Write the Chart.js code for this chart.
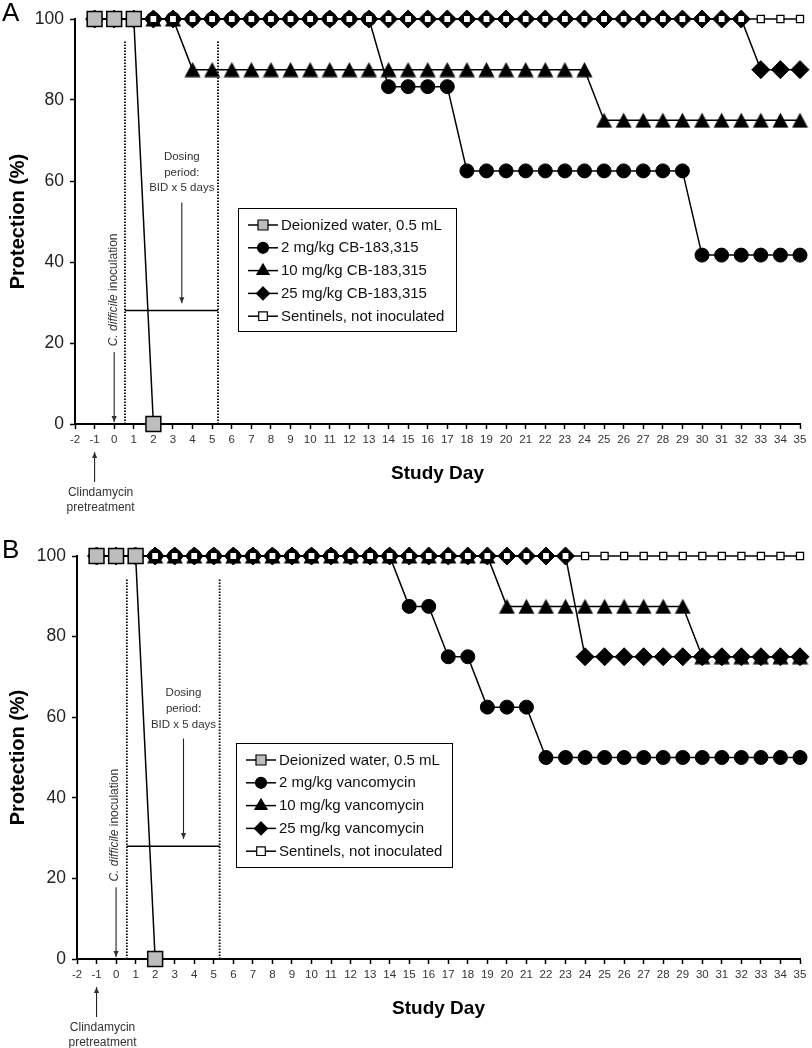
<!DOCTYPE html>
<html>
<head>
<meta charset="utf-8">
<script src="https://cdn.jsdelivr.net/npm/chart.js@4.4.0/dist/chart.umd.min.js"></script>
<style>
  html, body { margin: 0; padding: 0; background: #fff; }
  canvas { display: block; }
</style>
</head>
<body>
<canvas id="chartA" width="812" height="524"></canvas>
<canvas id="chartB" width="812" height="524"></canvas>
<script>
// study days shown for every treated group (-1 .. 35)
var days = [-1, 0, 1, 2, 3, 4, 5, 6, 7, 8, 9, 10, 11, 12, 13, 14, 15, 16, 17, 18,
            19, 20, 21, 22, 23, 24, 25, 26, 27, 28, 29, 30, 31, 32, 33, 34, 35];
var waterDays = [-1, 0, 1, 2];
var waterVals = [100, 100, 100, 0];

// panel A - CB-183,315
var cb2 = [100, 100, 100, 100, 100, 100, 100, 100, 100, 100, 100, 100, 100, 100, 100,
           83.3, 83.3, 83.3, 83.3,
           62.5, 62.5, 62.5, 62.5, 62.5, 62.5, 62.5, 62.5, 62.5, 62.5, 62.5, 62.5,
           41.7, 41.7, 41.7, 41.7, 41.7, 41.7];
var cb10 = [100, 100, 100, 100, 100,
            87.5, 87.5, 87.5, 87.5, 87.5, 87.5, 87.5, 87.5, 87.5, 87.5, 87.5, 87.5, 87.5, 87.5,
            87.5, 87.5, 87.5, 87.5, 87.5, 87.5, 87.5,
            75, 75, 75, 75, 75, 75, 75, 75, 75, 75, 75];
var cb25 = [100, 100, 100, 100, 100, 100, 100, 100, 100, 100, 100, 100, 100, 100, 100, 100, 100,
            100, 100, 100, 100, 100, 100, 100, 100, 100, 100, 100, 100, 100, 100, 100, 100, 100,
            87.5, 87.5, 87.5];
var sentA = [100, 100, 100, 100, 100, 100, 100, 100, 100, 100, 100, 100, 100, 100, 100, 100, 100,
             100, 100, 100, 100, 100, 100, 100, 100, 100, 100, 100, 100, 100, 100, 100, 100, 100,
             100, 100, 100];

// panel B - vancomycin
var van2 = [100, 100, 100, 100, 100, 100, 100, 100, 100, 100, 100, 100, 100, 100, 100, 100,
            87.5, 87.5, 75, 75, 62.5, 62.5, 62.5,
            50, 50, 50, 50, 50, 50, 50, 50, 50, 50, 50, 50, 50, 50];
var van10 = [100, 100, 100, 100, 100, 100, 100, 100, 100, 100, 100, 100, 100, 100, 100, 100, 100,
             100, 100, 100, 100,
             87.5, 87.5, 87.5, 87.5, 87.5, 87.5, 87.5, 87.5, 87.5, 87.5,
             75, 75, 75, 75, 75, 75];
var van25 = [100, 100, 100, 100, 100, 100, 100, 100, 100, 100, 100, 100, 100, 100, 100, 100, 100,
             100, 100, 100, 100, 100, 100, 100, 100,
             75, 75, 75, 75, 75, 75, 75, 75, 75, 75, 75, 75];
var sentB = [100, 100, 100, 100, 100, 100, 100, 100, 100, 100, 100, 100, 100, 100, 100, 100, 100,
             100, 100, 100, 100, 100, 100, 100, 100, 100, 100, 100, 100, 100, 100, 100, 100, 100,
             100, 100, 100];

var labelsA = ["Deionized water, 0.5 mL", "2 mg/kg CB-183,315", "10 mg/kg CB-183,315",
               "25 mg/kg CB-183,315", "Sentinels, not inoculated"];
var labelsB = ["Deionized water, 0.5 mL", "2 mg/kg vancomycin", "10 mg/kg vancomycin",
               "25 mg/kg vancomycin", "Sentinels, not inoculated"];

var yTicks = [0, 20, 40, 60, 80, 100];

var FAM = '"Liberation Sans", Arial, Helvetica, sans-serif';

function pts(xs, ys) {
  return xs.map(function (x, i) { return { x: x, y: ys[i] }; });
}

// triangle marker centred on its box (chart.js' own triangle sits a bit high)
function triangleImg() {
  var c = document.createElement('canvas');
  c.width = 17; c.height = 16;
  var g = c.getContext('2d');
  g.beginPath();
  g.moveTo(8.5, 0.5);
  g.lineTo(16.5, 15.5);
  g.lineTo(0.5, 15.5);
  g.closePath();
  g.fillStyle = '#000';
  g.fill();
  return c;
}
var triMark = triangleImg();

// legend marker shapes (drawn by hand, legend sits inside the plot)
var legendMarks = [
  { style: 'rect', r: 5, fill: '#bdbdbd' },
  { style: 'circle', r: 5.5, fill: '#000' },
  { style: 'triangle', r: 7, fill: '#000' },
  { style: 'rectRot', r: 6.5, fill: '#000' },
  { style: 'rect', r: 4.3, fill: '#fff' }
];

function drawMark(ctx, m, x, y) {
  var r = m.r;
  ctx.beginPath();
  if (m.style === 'circle') {
    ctx.arc(x, y, r, 0, Math.PI * 2);
  } else if (m.style === 'triangle') {
    ctx.moveTo(x, y - r * 0.95);
    ctx.lineTo(x + r * 0.87, y + r * 0.55);
    ctx.lineTo(x - r * 0.87, y + r * 0.55);
    ctx.closePath();
  } else if (m.style === 'rectRot') {
    ctx.moveTo(x, y - r); ctx.lineTo(x + r, y); ctx.lineTo(x, y + r); ctx.lineTo(x - r, y);
    ctx.closePath();
  } else {
    ctx.rect(x - r, y - r, 2 * r, 2 * r);
  }
  ctx.fillStyle = m.fill;
  ctx.fill();
  ctx.lineWidth = 1.2;
  ctx.strokeStyle = '#000';
  ctx.stroke();
}

function arrow(ctx, x, yFrom, yTo) {
  ctx.beginPath();
  ctx.moveTo(x, yFrom);
  ctx.lineTo(x, yTo);
  ctx.stroke();
  var dir = yTo > yFrom ? 1 : -1;
  ctx.beginPath();
  ctx.moveTo(x, yTo);
  ctx.lineTo(x - 2.6, yTo - dir * 6);
  ctx.lineTo(x + 2.6, yTo - dir * 6);
  ctx.closePath();
  ctx.fill();
}

function notes(cfg) {
  return {
    id: 'notes',
    afterDraw: function (chart) {
      var ctx = chart.ctx, xs = chart.scales.x, ys = chart.scales.y, a = chart.chartArea;
      var px = function (v) { return xs.getPixelForValue(v); };
      var py = function (v) { return ys.getPixelForValue(v); };
      ctx.save();

      // panel letter
      ctx.fillStyle = '#000';
      ctx.font = '26px ' + FAM;
      ctx.textAlign = 'left';
      ctx.textBaseline = 'middle';
      ctx.fillText(cfg.letter, 2, a.top - 5);

      // dosing window (dotted)
      ctx.strokeStyle = '#000';
      ctx.lineWidth = 1.8;
      ctx.setLineDash([1.5, 1.5]);
      [0.55, 5.3].forEach(function (d) {
        ctx.beginPath();
        ctx.moveTo(px(d), py(0));
        ctx.lineTo(px(d), py(94.5));
        ctx.stroke();
      });
      ctx.setLineDash([]);

      ctx.lineWidth = 1.5;
      ctx.beginPath();
      ctx.moveTo(px(0.55), py(28));
      ctx.lineTo(px(5.3), py(28));
      ctx.stroke();

      // dosing text + arrow
      ctx.fillStyle = '#333';
      ctx.strokeStyle = '#222';
      ctx.lineWidth = 1.1;
      ctx.font = '11.5px ' + FAM;
      ctx.textAlign = 'center';
      ctx.fillText('Dosing', px(3.45), py(66));
      ctx.fillText('period:', px(3.45), py(62.1));
      ctx.fillText('BID x 5 days', px(3.45), py(58.2));
      arrow(ctx, px(3.45), py(54.7), py(29.8));

      // inoculation
      arrow(ctx, px(0), py(17.8), py(0.5));
      ctx.save();
      ctx.translate(px(0) - 1, py(19.2));
      ctx.rotate(-Math.PI / 2);
      ctx.textAlign = 'left';
      ctx.font = 'italic 12px ' + FAM;
      var t1 = 'C. difficile';
      ctx.fillText(t1, 0, 0);
      var w1 = ctx.measureText(t1 + ' ').width;
      ctx.font = '12px ' + FAM;
      ctx.fillText('inoculation', w1, 0);
      ctx.restore();

      // clindamycin pretreatment
      arrow(ctx, px(-1), a.bottom + 58, a.bottom + 28);
      ctx.font = '12px ' + FAM;
      ctx.textAlign = 'center';
      ctx.fillText('Clindamycin', px(-1) + 6, a.bottom + 69);
      ctx.fillText('pretreatment', px(-1) + 6, a.bottom + 84);

      // legend box
      var L = cfg.legend;
      ctx.fillStyle = '#fff';
      ctx.fillRect(L.x, L.y, L.w, L.h);
      ctx.strokeStyle = '#000';
      ctx.lineWidth = 1;
      ctx.strokeRect(L.x + 0.5, L.y + 0.5, L.w, L.h);
      ctx.font = '15px ' + FAM;
      ctx.textAlign = 'left';
      ctx.textBaseline = 'middle';
      cfg.labels.forEach(function (lab, i) {
        var yy = L.y + 17 + i * 22.8;
        ctx.strokeStyle = '#000';
        ctx.lineWidth = 1.5;
        ctx.beginPath();
        ctx.moveTo(L.x + 10, yy);
        ctx.lineTo(L.x + 40, yy);
        ctx.stroke();
        drawMark(ctx, legendMarks[i], L.x + 25, yy);
        ctx.fillStyle = '#111';
        ctx.fillText(lab, L.x + 43, yy + 0.5);
      });
      ctx.restore();
    }
  };
}

function makeChart(id, series, labels, cfg) {
  var base = {
    borderColor: '#000', borderWidth: 1.5, pointBorderColor: '#000', pointBorderWidth: 1,
    fill: false, tension: 0, clip: false
  };
  var sets = [
    Object.assign({}, base, { label: labels[0], data: pts(waterDays, waterVals), pointStyle: 'rect',
      pointRadius: 10.5, pointBackgroundColor: '#bdbdbd', pointBorderWidth: 1.5, order: 0 }),
    Object.assign({}, base, { label: labels[1], data: pts(days, series[0]), pointStyle: 'circle',
      pointRadius: 7, pointBackgroundColor: '#000', order: 4 }),
    Object.assign({}, base, { label: labels[2], data: pts(days, series[1]), pointStyle: triMark,
      pointRadius: 9, pointBackgroundColor: '#000', order: 2 }),
    Object.assign({}, base, { label: labels[3], data: pts(days, series[2]), pointStyle: 'rectRot',
      pointRadius: 9, pointBackgroundColor: '#000', order: 3 }),
    Object.assign({}, base, { label: labels[4], data: pts(days, series[3]), pointStyle: 'rect',
      pointRadius: 5, pointBackgroundColor: '#fff', pointBorderWidth: 1.3, order: 1 })
  ];

  return new Chart(document.getElementById(id), {
    type: 'line',
    data: { datasets: sets },
    options: {
      responsive: false,
      animation: false,
      events: [],
      layout: { padding: { left: 0, right: 6, top: cfg.top, bottom: cfg.bottom } },
      plugins: { legend: { display: false }, tooltip: { enabled: false } },
      scales: {
        x: {
          type: 'linear', min: -2, max: 35,
          afterFit: function (s) { s.height = 70; },
          border: { color: '#000', width: 2 },
          grid: { drawOnChartArea: false, drawTicks: true, tickLength: 5, tickColor: '#000', tickWidth: 1.5 },
          ticks: { stepSize: 1, autoSkip: false, maxRotation: 0, padding: 4, color: '#333',
                   font: { size: 11.5, family: FAM } },
          title: { display: true, text: 'Study Day', color: '#000',
                   font: { size: 19, weight: 'bold', family: FAM }, padding: { top: 0, bottom: 8.6 } }
        },
        y: {
          min: 0, max: 100,
          afterFit: function (s) { s.width = cfg.yw; },
          afterBuildTicks: function (s) { s.ticks = yTicks.map(function (v) { return { value: v }; }); },
          border: { color: '#000', width: 2 },
          grid: { drawOnChartArea: false, drawTicks: true, tickLength: 5, tickColor: '#000', tickWidth: 1.5 },
          ticks: { padding: 6, color: '#222', font: { size: 17.5, family: FAM } },
          title: { display: true, text: 'Protection (%)', color: '#000',
                   font: { size: 20, weight: 'bold', family: FAM }, padding: { top: 6, bottom: 0 } }
        }
      }
    },
    plugins: [notes({ letter: cfg.letter, labels: labels, legend: cfg.legend })]
  });
}

makeChart('chartA', [cb2, cb10, cb25, sentA], labelsA,
  { letter: 'A', top: 19, bottom: 30, yw: 75, legend: { x: 238, y: 208, w: 218, h: 123 } });
makeChart('chartB', [van2, van10, van25, sentB], labelsB,
  { letter: 'B', top: 32, bottom: 19, yw: 77, legend: { x: 236, y: 219, w: 216, h: 124 } });
</script>
</body>
</html>
